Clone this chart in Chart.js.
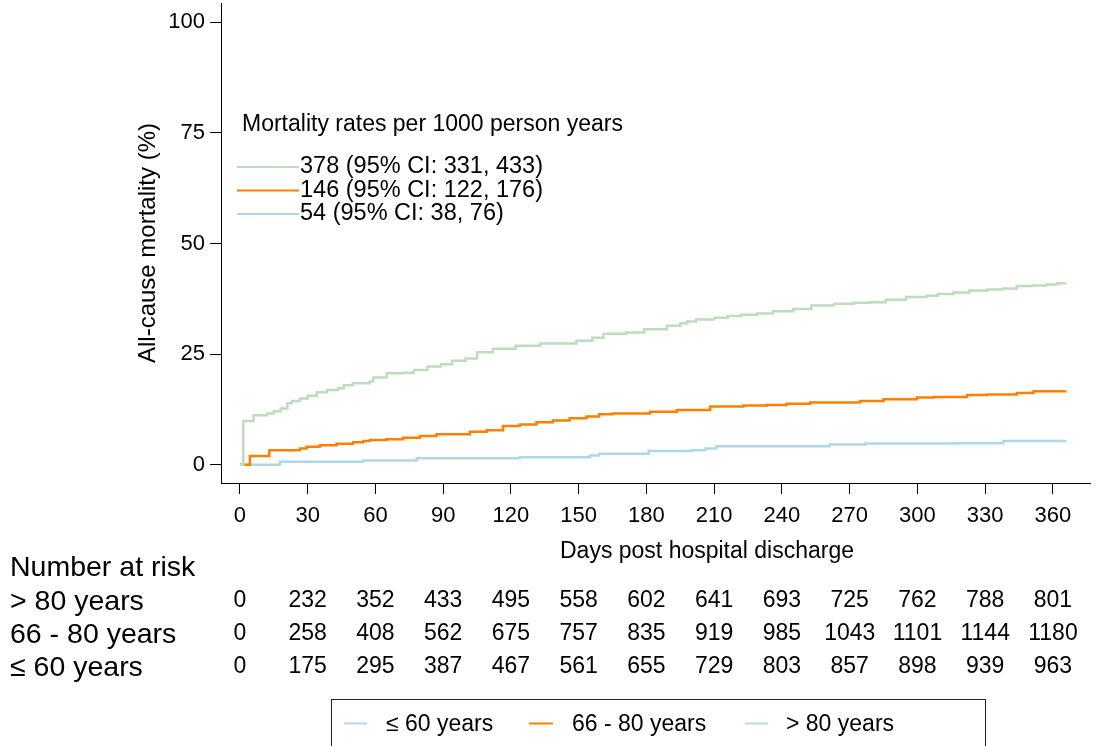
<!DOCTYPE html>
<html>
<head>
<meta charset="utf-8">
<title>All-cause mortality after discharge</title>
<script src="https://cdn.jsdelivr.net/npm/chart.js@4.4.1/dist/chart.umd.min.js"></script>
<style>
  html, body { margin: 0; padding: 0; background: #fff; }
  #wrap { width: 1098px; height: 746px; }
</style>
</head>
<body>
<div id="wrap"><canvas id="kmChart" width="1098" height="746"></canvas></div>
<script>
const FONT = "'Liberation Sans', Arial, Helvetica, sans-serif";

// Cumulative all-cause mortality (%) at each event day, per age group
const ageGroups = ["\u2264 60 years", "66 - 80 years", "> 80 years"];
const groupColors = ["#add8e6", "#ff7f00", "#bedcbe"];

const daysYoung = [0, 17.7, 54.6, 78.2, 124, 155, 159, 181, 200, 206, 211, 261, 277, 317, 338, 365.5];
const mortYoung = [0, 0.7, 1.0, 1.5, 1.7, 2.1, 2.5, 3.1, 3.3, 3.7, 4.2, 4.6, 4.8, 4.9, 5.4, 5.5];

const daysMid = [0, 4.4, 13, 26.5, 29.5, 35.4, 42.8, 50.1, 54.6, 57.5,
  64.9, 72.3, 79.6, 87, 101.8, 109.2, 116.5, 123.9, 131.3, 138.6,
  146, 153.4, 159, 165, 181.6, 193.4, 208.2, 222.9, 233.2, 242.1,
  252.5, 274.6, 285, 299.7, 307.1, 321.9, 330.8, 344, 351.4, 365.5];
const mortMid = [0, 2.0, 3.3, 3.7, 4.1, 4.4, 4.75, 5.1, 5.4, 5.6,
  5.8, 6.1, 6.5, 6.9, 7.5, 7.8, 8.75, 9.1, 9.6, 10.0,
  10.5, 10.9, 11.4, 11.6, 12.0, 12.4, 13.2, 13.4, 13.5, 13.8,
  14.1, 14.4, 14.8, 15.2, 15.3, 15.8, 15.9, 16.2, 16.6, 16.8];

const daysOld = [0, 1.5, 6, 12, 15, 18, 21, 23, 26.5, 30,
  34, 38.5, 43.5, 46, 50, 57.5, 59, 65, 72, 77,
  83, 89, 94, 100, 105, 112, 122, 133, 149, 156,
  161, 171, 179, 189, 195, 198, 202, 210, 216, 222,
  229, 236, 245, 253, 263, 272, 279, 286, 295, 304,
  309, 316, 323, 331, 338, 344, 351, 357, 362, 365.5];
const mortOld = [0, 9.9, 11.2, 11.6, 12.1, 12.7, 13.9, 14.4, 15.0, 15.6,
  16.4, 16.9, 17.3, 18.0, 18.4, 18.8, 19.7, 20.7, 20.8, 21.4,
  22.2, 22.7, 23.5, 24.0, 25.4, 26.2, 26.9, 27.4, 28.0, 28.7,
  29.6, 29.9, 30.6, 31.4, 32.0, 32.4, 32.8, 33.2, 33.6, 33.9,
  34.2, 34.7, 35.2, 36.0, 36.4, 36.6, 36.7, 37.3, 37.9, 38.2,
  38.6, 38.9, 39.4, 39.6, 39.8, 40.4, 40.5, 40.7, 41.0, 41.1];

const xTicks = [0, 30, 60, 90, 120, 150, 180, 210, 240, 270, 300, 330, 360];
const yTicks = [0, 25, 50, 75, 100];

// Number at risk table, one value per x tick
const riskOld = [0, 232, 352, 433, 495, 558, 602, 641, 693, 725, 762, 788, 801];
const riskMid = [0, 258, 408, 562, 675, 757, 835, 919, 985, 1043, 1101, 1144, 1180];
const riskYoung = [0, 175, 295, 387, 467, 561, 655, 729, 803, 857, 898, 939, 963];

// Rates per 1000 person years (listed oldest first)
const rateLabels = ["378 (95% CI: 331, 433)", "146 (95% CI: 122, 176)", "54 (95% CI: 38, 76)"];

function toPoints(days, values) {
  return days.map((d, i) => ({ x: d, y: values[i] }));
}

// Draws the rates legend, axis title, risk table and bottom legend
const extrasPlugin = {
  id: "extras",
  afterDraw(chart) {
    const ctx = chart.ctx;
    const xs = chart.scales.x;
    ctx.save();
    ctx.fillStyle = "#000";
    ctx.textBaseline = "middle";

    // rates legend inside the plot
    ctx.font = "23px " + FONT;
    ctx.textAlign = "left";
    ctx.fillText("Mortality rates per 1000 person years", 242, 125);
    const rateColors = [groupColors[2], groupColors[1], groupColors[0]];
    rateLabels.forEach((txt, i) => {
      const y = 167 + i * 23.5;
      ctx.strokeStyle = rateColors[i];
      ctx.lineWidth = 2;
      ctx.beginPath();
      ctx.moveTo(237, y);
      ctx.lineTo(299, y);
      ctx.stroke();
      ctx.font = "23.5px " + FONT;
      ctx.fillText(txt, 300, y);
    });

    // x axis title
    ctx.textAlign = "center";
    ctx.font = "23px " + FONT;
    ctx.fillText("Days post hospital discharge", 707, 552);

    // number at risk
    ctx.textAlign = "left";
    ctx.font = "28.5px " + FONT;
    const rowNames = ["Number at risk", "> 80 years", "66 - 80 years", "\u2264 60 years"];
    const rowY = [568, 602, 635, 668];
    rowNames.forEach((t, i) => ctx.fillText(t, 10, rowY[i]));

    ctx.textAlign = "center";
    ctx.font = "23px " + FONT;
    [riskOld, riskMid, riskYoung].forEach((row, r) => {
      row.forEach((n, i) => {
        ctx.fillText(String(n), xs.getPixelForValue(xTicks[i]), rowY[r + 1] - 1);
      });
    });

    // bottom legend box
    ctx.strokeStyle = "#222";
    ctx.lineWidth = 1;
    ctx.strokeRect(331.5, 699.5, 654, 80);
    const legX = [[344, 367, 386], [529, 553, 572], [745, 768, 786]];
    ctx.textAlign = "left";
    ctx.font = "23px " + FONT;
    ageGroups.forEach((name, i) => {
      const [x0, x1, tx] = legX[i];
      ctx.strokeStyle = groupColors[i];
      ctx.lineWidth = 2;
      ctx.beginPath();
      ctx.moveTo(x0, 723.5);
      ctx.lineTo(x1, 723.5);
      ctx.stroke();
      ctx.fillText(name, tx, 725);
    });
    ctx.restore();
  }
};

const ctx = document.getElementById("kmChart").getContext("2d");
const kmChart = new Chart(ctx, {
  type: "line",
  data: {
    datasets: [
      { label: ageGroups[0], data: toPoints(daysYoung, mortYoung), borderColor: groupColors[0], order: 2 },
      { label: ageGroups[1], data: toPoints(daysMid, mortMid), borderColor: groupColors[1], order: 1 },
      { label: ageGroups[2], data: toPoints(daysOld, mortOld), borderColor: groupColors[2], order: 0 },
    ],
  },
  options: {
    responsive: false,
    animation: false,
    parsing: false,
    layout: { padding: { top: 3, right: 8, left: 0, bottom: 0 } },
    elements: {
      line: { borderWidth: 2.5, stepped: true, fill: false, tension: 0 },
      point: { radius: 0 },
    },
    plugins: { legend: { display: false }, tooltip: { enabled: false } },
    scales: {
      x: {
        type: "linear",
        min: -8.4,
        max: 376.4,
        afterBuildTicks: (scale) => { scale.ticks = xTicks.map((v) => ({ value: v })); },
        afterFit: (scale) => { scale.height = 263; scale.paddingLeft = 0; scale.paddingRight = 0; },
        ticks: { color: "#000", font: { family: FONT, size: 22 }, padding: 9, maxRotation: 0 },
        grid: { drawOnChartArea: false, drawTicks: true, tickLength: 11, color: "#000" },
        border: { display: true, color: "#000", width: 1 },
      },
      y: {
        type: "linear",
        min: -4.1,
        max: 104.3,
        afterBuildTicks: (scale) => { scale.ticks = yTicks.map((v) => ({ value: v })); },
        afterFit: (scale) => { scale.width = 221; scale.paddingTop = 0; scale.paddingBottom = 0; },
        ticks: { color: "#000", font: { family: FONT, size: 22 }, padding: 5 },
        grid: { drawOnChartArea: false, drawTicks: true, tickLength: 11, color: "#000" },
        border: { display: true, color: "#000", width: 1 },
        title: {
          display: true,
          text: "All-cause mortality (%)",
          color: "#000",
          font: { family: FONT, size: 24 },
          padding: { top: 134, bottom: 0 },
        },
      },
    },
  },
  plugins: [extrasPlugin],
});
</script>
</body>
</html>
